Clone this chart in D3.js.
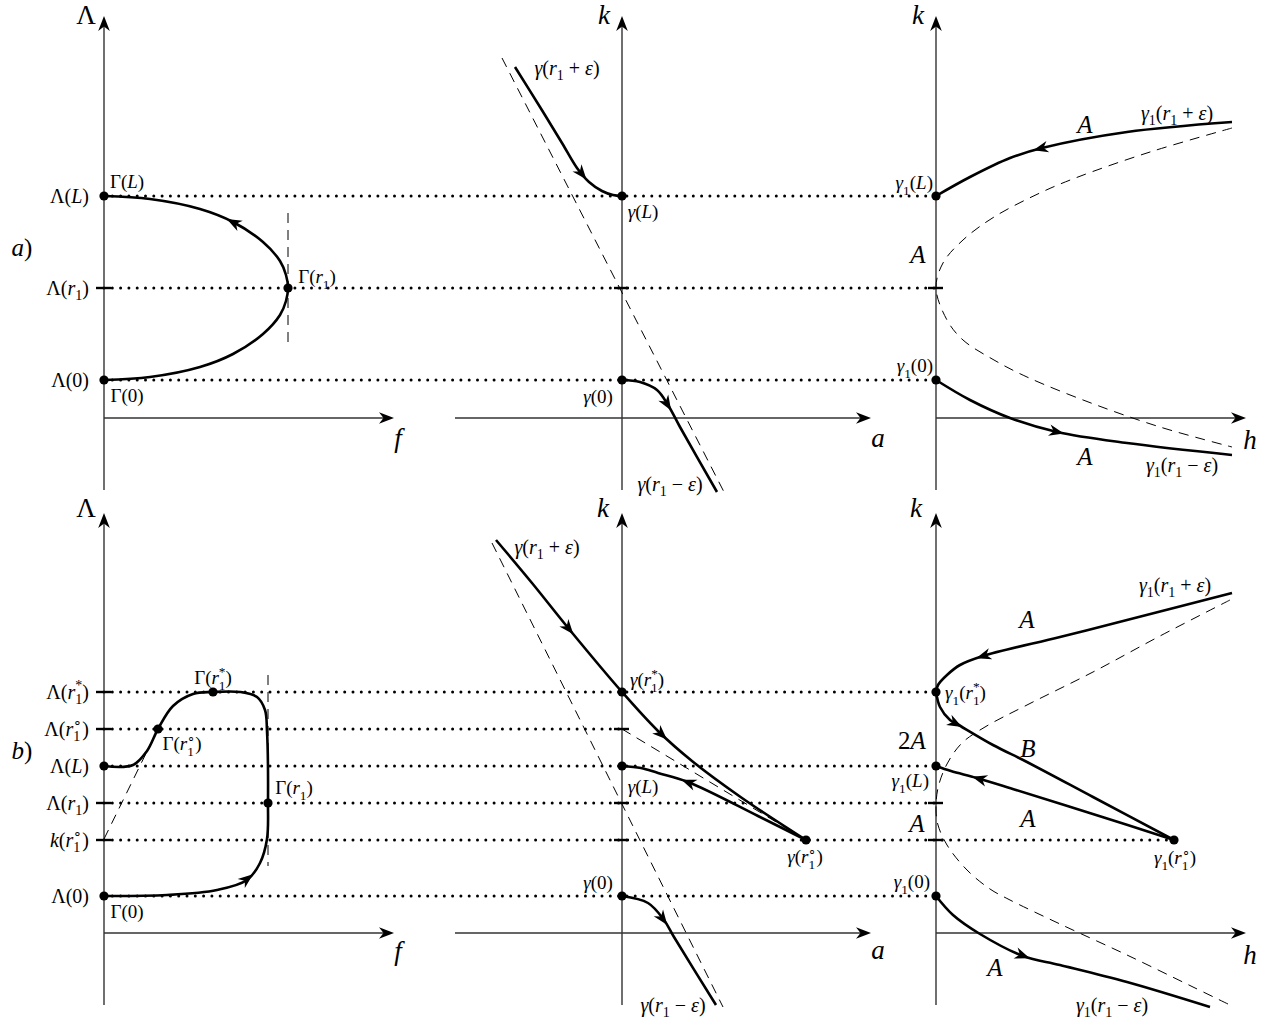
<!DOCTYPE html>
<meta charset="utf-8">
<style>
body { margin: 0; background: #fff; }
svg text { font-family: "Liberation Serif", "Times New Roman", serif; fill: #000; }
.axis { stroke: #333; stroke-width: 1.4; fill: none; }
.curve { stroke: #000; stroke-width: 2.6; fill: none; }
.guide { stroke: #000; stroke-width: 1; stroke-dasharray: 10,7; fill: none; }
.dots { stroke: #000; stroke-width: 3; stroke-dasharray: 0,8.3; stroke-linecap: round; fill: none; }
.tick { stroke: #000; stroke-width: 2.4; }
</style>
<body>
<script src="https://cdn.jsdelivr.net/npm/d3@7"></script>
<script>

// levels on the vertical axes (units above the horizontal axis)
var topLevelNames = ["Λ(L)", "Λ(r_1)", "Λ(0)"];
var topLevelValues = [222, 130, 38];
var bottomLevelNames = ["Λ(r_1^*)", "Λ(r_1^∘)", "Λ(L)", "Λ(r_1)", "k(r_1^∘)", "Λ(0)"];
var bottomLevelValues = [241, 204, 167, 130, 93, 37];

// a) row curves
var topGamma = [[0,38],[46,41],[96,51],[129,64],[159,84],[176,103],[182,117],[184,130],[182,143],[176,157],[159,176],[129,196],[96,209],[46,219],[0,222]];
var topGammaDash = [[184,205],[184,71]];
var topMidUpper = [[-107,351],[-82,311],[-60,275],[-45,250],[-33,236],[-20,227],[-9,223],[0,222]];
var topMidLower = [[0,38],[18,36],[35,28],[46,13],[58,-9],[95,-74]];
var topMidDash = [[-120,360],[102,-74]];
var topRightUpper = [[296,296],[191,286],[106,270],[74,260],[34,241],[0,222]];
var topRightLower = [[0,38],[34,18],[74,0],[121,-14],[191,-25],[296,-37]];
var topRightDash = [[296,290],[214,266],[142,241],[106,226],[58,201],[27,178],[7,155],[0,130],[11,98],[27,78],[58,58],[91,41],[155,15],[224,-9],[296,-29]];

// b) row curves
var botGamma = [[0,37],[63,38],[113,43],[143,53],[156,70],[163,94],[164,130],[163,202],[161,223],[153,236],[136,241],[109,241],[89,239],[69,227],[54,204],[43,182],[29,168],[0,167]];
var botGammaDashV = [[164,258],[164,67]];
var botGammaDashD = [[0,94],[54,204]];
var botMidUpper = [[-126,393],[-90,350],[-53,304],[0,241],[36,202],[70,172],[120,135],[184,93]];
var botMidL = [[184,93],[136,117],[66,151],[36,160],[19,165],[0,167]];
var botMidLower = [[0,37],[26,30],[42,13],[52,-4],[94,-72]];
var botMidDash = [[-130,390],[101,-74]];
var botMidDash2 = [[0,204],[184,93]];
var botRightUpper = [[296,340],[191,313],[124,296],[47,277],[24,268],[11,258],[2,248],[0,241]];
var botRightB = [[0,241],[4,226],[14,213],[21,209],[57,188],[91,171],[157,136],[238,93]];
var botRightL = [[238,93],[160,118],[80,143],[41,155],[15,162],[0,167]];
var botRightLower = [[0,37],[17,18],[44,-1],[87,-23],[124,-32],[191,-49],[274,-74]];
var botRightDash = [[294,333],[224,297],[157,261],[91,228],[49,206],[26,190],[11,169],[2,145],[0,123],[2,108],[11,88],[31,63],[54,44],[74,33],[124,9],[191,-22],[257,-54],[294,-72]];

var colAxisX = [104, 622, 936];
var rowAxisY = [418, 933];

var svg = d3.select("body").append("svg").attr("width", 1273).attr("height", 1020);

var xs = colAxisX.map(function(a){ return d3.scaleLinear().domain([0,100]).range([a, a+100]); });
var ys = rowAxisY.map(function(a){ return d3.scaleLinear().domain([0,100]).range([a, a-100]); });

var line = function(c, r){
  return d3.line().x(function(d){ return xs[c](d[0]); }).y(function(d){ return ys[r](d[1]); })
    .curve(d3.curveCatmullRom.alpha(0.5));
};

var arrowShape = "M0,0 L-15,-5.8 L-10.5,0 L-15,5.8 Z";

function tex(sel, str, x, y, size, anchor) {
  var t = sel.append("text").attr("x", x).attr("y", y + size*0.33)
    .attr("font-size", size).attr("text-anchor", anchor || "middle");
  var shift = 0, prevSub = false;
  for (var i = 0; i < str.length; i++) {
    var c = str[i], mode = 0;
    if ((c === "_" || c === "^") && i + 1 < str.length) { mode = c === "_" ? 1 : 2; c = str[++i]; }
    var fs = mode ? size*0.7 : size;
    var target = mode === 1 ? size*0.28 : mode === 2 ? -size*0.42 : 0;
    var sp = t.append("tspan").attr("font-size", fs).attr("dy", target - shift)
      .text(c === " " ? "\u2005" : c);
    if (/[A-Za-zγε]/.test(c)) sp.attr("font-style", "italic");
    if (mode === 2 && prevSub) sp.attr("dx", -size*0.7*0.5);
    shift = target; prevSub = mode === 1;
  }
}

// dotted level lines
var gDots = svg.append("g");
topLevelValues.forEach(function(v){
  gDots.append("line").attr("class","dots")
    .attr("x1", xs[0](0)).attr("x2", xs[2](0)).attr("y1", ys[0](v)).attr("y2", ys[0](v));
});
var bottomLevelEnds = [[2,0],[1,0],[2,0],[2,0],[2,238],[2,0]];
bottomLevelValues.forEach(function(v, i){
  var e = bottomLevelEnds[i];
  gDots.append("line").attr("class","dots")
    .attr("x1", xs[0](0)).attr("x2", xs[e[0]](e[1])).attr("y1", ys[1](v)).attr("y2", ys[1](v));
});

// axes
var axisExtents = {
  v: [[-72, 402], [-72, 420]],
  h: [[0, 290], [-167, 249], [0, 310]]
};
var gAxes = svg.append("g");
[0,1].forEach(function(r){
  [0,1,2].forEach(function(c){
    var ve = axisExtents.v[r], he = axisExtents.h[c];
    gAxes.append("line").attr("class","axis")
      .attr("x1", xs[c](0)).attr("x2", xs[c](0)).attr("y1", ys[r](ve[0])).attr("y2", ys[r](ve[1]) + 6);
    gAxes.append("path").attr("d", "M0,0 L-15,-5.8 L-10.5,0 L-15,5.8 Z").attr("fill", "#000")
      .attr("transform", "translate(" + xs[c](0) + "," + ys[r](ve[1]) + ") rotate(-90)");
    gAxes.append("line").attr("class","axis")
      .attr("x1", xs[c](he[0])).attr("x2", xs[c](he[1]) - 6).attr("y1", ys[r](0)).attr("y2", ys[r](0));
    gAxes.append("path").attr("d", "M0,0 L-15,-5.8 L-10.5,0 L-15,5.8 Z").attr("fill", "#000")
      .attr("transform", "translate(" + xs[c](he[1]) + "," + ys[r](0) + ")");
  });
});

// dashed guides
var guides = [
  [0,0,topGammaDash],[1,0,topMidDash],[2,0,topRightDash],
  [0,1,botGammaDashV],[0,1,botGammaDashD],[1,1,botMidDash],[1,1,botMidDash2],[2,1,botRightDash]
];
guides.forEach(function(g){
  svg.append("path").attr("class","guide").attr("d", line(g[0], g[1])(g[2]));
});

// solid curves with arrows: [col, row, points, arrow positions]
var curves = [
  [0,0,topGamma,[[129,196]]],
  [1,0,topMidUpper,[[-40,244]]],
  [1,0,topMidLower,[[46,14]]],
  [2,0,topRightUpper,[[104,270]]],
  [2,0,topRightLower,[[121,-14]]],
  [0,1,botGamma,[[143,55]]],
  [1,1,botMidUpper,[[-53,304],[40,198]]],
  [1,1,botMidL,[[66,151]]],
  [1,1,botMidLower,[[42,14]]],
  [2,1,botRightUpper,[[47,277]]],
  [2,1,botRightB,[[20,210]]],
  [2,1,botRightL,[[43,155]]],
  [2,1,botRightLower,[[87,-23]]]
];
curves.forEach(function(cv){
  var p = svg.append("path").attr("class","curve").attr("d", line(cv[0], cv[1])(cv[2]));
  var node = p.node(), len = node.getTotalLength();
  cv[3].forEach(function(a){
    var tx = xs[cv[0]](a[0]), ty = ys[cv[1]](a[1]);
    var best = 0, bd = 1e9;
    for (var l = 0; l <= len; l += 0.5) {
      var pt = node.getPointAtLength(l), d = (pt.x-tx)*(pt.x-tx) + (pt.y-ty)*(pt.y-ty);
      if (d < bd) { bd = d; best = l; }
    }
    var p0 = node.getPointAtLength(Math.max(0, best-3)), p1 = node.getPointAtLength(Math.min(len, best+3));
    var ang = Math.atan2(p1.y - p0.y, p1.x - p0.x) * 180 / Math.PI;
    var c = node.getPointAtLength(Math.min(len, best + 7));
    svg.append("path").attr("d", arrowShape).attr("fill", "#000")
      .attr("transform", "translate(" + c.x + "," + c.y + ") rotate(" + ang + ")");
  });
});

// ticks on axes
var ticks = [
  [0,0,[130]],[1,0,[130]],[2,0,[130]],
  [0,1,[241,204,130,93]],[1,1,[204,130,93]],[2,1,[130,93]]
];
ticks.forEach(function(t){
  t[2].forEach(function(v){
    svg.append("line").attr("class","tick")
      .attr("x1", xs[t[0]](0) - 8).attr("x2", xs[t[0]](0) + 7)
      .attr("y1", ys[t[1]](v)).attr("y2", ys[t[1]](v));
  });
});

// marked points
var points = [
  [0,0,[[0,222],[184,130],[0,38]]],
  [1,0,[[0,222],[0,38]]],
  [2,0,[[0,222],[0,38]]],
  [0,1,[[0,167],[54,204],[109,241],[164,130],[0,37]]],
  [1,1,[[0,241],[0,167],[184,93],[0,37]]],
  [2,1,[[0,241],[0,167],[238,93],[0,37]]]
];
points.forEach(function(p){
  p[2].forEach(function(d){
    svg.append("circle").attr("cx", xs[p[0]](d[0])).attr("cy", ys[p[1]](d[1])).attr("r", 4.6).attr("fill", "#000");
  });
});

// level labels
var gLab = svg.append("g");
topLevelNames.forEach(function(n, i){ tex(gLab, n, xs[0](-15), ys[0](topLevelValues[i]), 20, "end"); });
bottomLevelNames.forEach(function(n, i){ tex(gLab, n, xs[0](-15), ys[1](bottomLevelValues[i]), 20, "end"); });

// other labels: [col, row, text, x, y, size, anchor]
var labels = [
  [0,0,"Λ",-18,403,27],[0,0,"f",294,-20,27],[0,0,"a)",-82,170,25],
  [0,0,"Γ(L)",23,236,19],[0,0,"Γ(r_1)",213,141,19],[0,0,"Γ(0)",23,22,19],
  [1,0,"k",-18,403,27],[1,0,"a",256,-20,27],
  [1,0,"γ(r_1 + ε)",-55,350,20],[1,0,"γ(L)",21,206,19],[1,0,"γ(0)",-24,21,19],[1,0,"γ(r_1 − ε)",48,-66,20],
  [2,0,"k",-18,403,27],[2,0,"h",314,-22,27],
  [2,0,"A",149,293,25],[2,0,"γ_1(r_1 + ε)",241,305,20],[2,0,"γ_1(L)",-3,235,19,"end"],
  [2,0,"A",-18,163,25],[2,0,"γ_1(0)",-3,52,19,"end"],[2,0,"A",149,-39,25],[2,0,"γ_1(r_1 − ε)",246,-47,20],
  [0,1,"Λ",-18,425,27],[0,1,"f",294,-18,27],[0,1,"b)",-82,182,25],
  [0,1,"Γ(r_1^*)",109,255,19],[0,1,"Γ(r_1^∘)",78,189,19],[0,1,"Γ(r_1)",190,145,19],[0,1,"Γ(0)",23,21,19],
  [1,1,"k",-19,425,27],[1,1,"a",256,-17,27],
  [1,1,"γ(r_1 + ε)",-75,386,20],[1,1,"γ(r_1^*)",25,253,19],[1,1,"γ(L)",21,146,19],
  [1,1,"γ(r_1^∘)",183,76,19],[1,1,"γ(0)",-24,50,19],[1,1,"γ(r_1 − ε)",51,-72,20],
  [2,1,"k",-20,425,27],[2,1,"h",314,-22,27],
  [2,1,"A",91,313,25],[2,1,"γ_1(r_1 + ε)",239,348,20],[2,1,"γ_1(r_1^*)",9,240,19,"start"],
  [2,1,"2A",-24,192,25],[2,1,"B",92,184,25],[2,1,"γ_1(L)",-7,152,19,"end"],
  [2,1,"A",-19,109,25],[2,1,"A",92,114,25],[2,1,"γ_1(r_1^∘)",239,75,19],
  [2,1,"γ_1(0)",-6,51,19,"end"],[2,1,"A",59,-35,25],[2,1,"γ_1(r_1 − ε)",176,-72,20]
];
labels.forEach(function(l){
  tex(gLab, l[2], xs[l[0]](l[3]), ys[l[1]](l[4]), l[5], l[6]);
});

</script>
</body>
